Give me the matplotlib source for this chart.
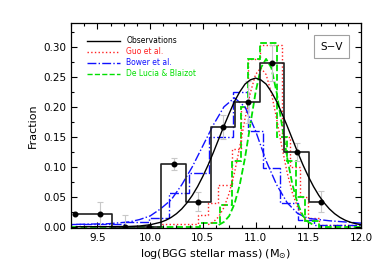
import numpy as np
import matplotlib
matplotlib.use("Agg")
import matplotlib.pyplot as plt
from matplotlib.lines import Line2D
from matplotlib.ticker import MultipleLocator

# Observations: histogram (bin centres, fraction, error)
obs_x = [9.29, 9.524, 9.757, 9.99, 10.224, 10.457, 10.69, 10.924, 11.157, 11.39, 11.624]
obs_y = [0.022, 0.022, 0.0, 0.0, 0.105, 0.042, 0.167, 0.208, 0.273, 0.125, 0.042]
obs_err = [0.0, 0.02, 0.02, 0.0, 0.01, 0.016, 0.02, 0.035, 0.03, 0.015, 0.017]

# Observations: fitted curve
fit_x = [9.3, 9.6, 9.8, 9.9, 10.0, 10.1, 10.15, 10.2, 10.25, 10.3, 10.35, 10.4, 10.45,
         10.5, 10.55, 10.6, 10.65, 10.7, 10.75, 10.8, 10.85, 10.9, 10.95, 11.0,
         11.05, 11.1, 11.15, 11.2, 11.25, 11.3, 11.35, 11.4, 11.45, 11.5, 11.55,
         11.6, 11.65, 11.7, 11.75, 11.8, 11.85, 11.9, 11.95, 12.0]
fit_y = [0.0, 0.0001, 0.0005, 0.0013, 0.0033, 0.0075, 0.0109, 0.0156, 0.0218, 0.0298,
         0.040, 0.0523, 0.067, 0.0841, 0.103, 0.124, 0.146, 0.168, 0.189, 0.209,
         0.225, 0.238, 0.245, 0.248, 0.245, 0.238, 0.225, 0.209, 0.189, 0.168,
         0.146, 0.124, 0.103, 0.0841, 0.067, 0.0523, 0.040, 0.0298, 0.0218, 0.0156,
         0.0109, 0.0075, 0.0052, 0.0033]

# Guo et al. (red dotted)
guo_edges = [10.1, 10.45, 10.55, 10.64, 10.78, 10.86, 10.93, 11.04, 11.25, 11.33, 11.42, 11.5, 11.6, 12.0]
guo_vals = [0.004, 0.02, 0.04, 0.07, 0.13, 0.2, 0.28, 0.303, 0.15, 0.1, 0.05, 0.015, 0.003]
guo_cx = [10.55, 10.6, 10.65, 10.7, 10.75, 10.8, 10.85, 10.9, 10.95, 11.0, 11.05,
          11.1, 11.15, 11.2, 11.25, 11.3, 11.35, 11.4, 11.45, 11.5, 11.55]
guo_cy = [0.0035, 0.008, 0.0166, 0.032, 0.056, 0.090, 0.133, 0.180, 0.223, 0.254, 0.265,
          0.254, 0.223, 0.180, 0.133, 0.090, 0.056, 0.032, 0.0166, 0.008, 0.0035]

# Bower et al. (blue dash-dot)
bow_edges = [9.25, 9.75, 9.99, 10.18, 10.37, 10.56, 10.79, 10.93, 11.07, 11.23, 11.4, 11.55, 12.0]
bow_vals = [0.004, 0.008, 0.015, 0.057, 0.09, 0.15, 0.225, 0.16, 0.098, 0.04, 0.012, 0.003]
bow_cx = [9.3, 9.6, 9.8, 9.9, 10.0, 10.1, 10.2, 10.3, 10.4, 10.5, 10.6, 10.7, 10.8,
          10.9, 11.0, 11.1, 11.2, 11.3, 11.4, 11.5, 11.7, 12.0]
bow_cy = [0.004, 0.005, 0.008, 0.012, 0.018, 0.03, 0.045, 0.07, 0.1, 0.135, 0.17, 0.2,
          0.215, 0.2, 0.16, 0.11, 0.07, 0.04, 0.022, 0.014, 0.01, 0.006]

# De Lucia & Blaizot (green dashed)
dlb_edges = [9.25, 10.47, 10.66, 10.78, 10.86, 10.93, 11.04, 11.2, 11.3, 11.38, 11.47, 11.6, 12.0]
dlb_vals = [0.0, 0.007, 0.037, 0.11, 0.2, 0.28, 0.307, 0.15, 0.11, 0.05, 0.01, 0.0]
dlb_cx = [10.65, 10.7, 10.75, 10.8, 10.85, 10.9, 10.95, 11.0, 11.05, 11.1, 11.15,
          11.2, 11.25, 11.3, 11.35, 11.4, 11.45, 11.5, 11.55]
dlb_cy = [0.003, 0.008, 0.018, 0.038, 0.070, 0.115, 0.170, 0.224, 0.265, 0.28, 0.265,
          0.224, 0.170, 0.115, 0.070, 0.038, 0.018, 0.008, 0.003]

red = "#ff2020"
blue = "#1010ff"
green = "#00e000"

fig = plt.figure(figsize=(3.82, 2.73), dpi=100)
ax = fig.add_axes([0.186, 0.165, 0.759, 0.751])

# models
ax.stairs(guo_vals, guo_edges, color=red, linestyle=":", linewidth=1.0)
ax.plot(guo_cx, guo_cy, color=red, linestyle=":", linewidth=1.0)
ax.stairs(bow_vals, bow_edges, color=blue, linestyle="-.", linewidth=1.0)
ax.plot(bow_cx, bow_cy, color=blue, linestyle="-.", linewidth=1.0)
ax.stairs(dlb_vals, dlb_edges, color=green, linestyle="--", linewidth=1.3)
ax.plot(dlb_cx, dlb_cy, color=green, linestyle="--", linewidth=1.3)

# observations
ax.errorbar(obs_x, obs_y, yerr=obs_err, fmt="none", ecolor="#c8c8c8",
            elinewidth=0.8, capsize=2, capthick=0.8, zorder=2)
ax.step(obs_x, obs_y, where="mid", color="#202020", linewidth=1.2, zorder=3)
ax.plot(obs_x, obs_y, "o", color="black", markersize=3.3, zorder=4)
ax.plot(fit_x, fit_y, color="black", linewidth=1.0, zorder=4)

ax.set_xlim(9.25, 12.0)
ax.set_ylim(-0.002, 0.34)
ax.xaxis.set_minor_locator(MultipleLocator(0.125))
ax.yaxis.set_minor_locator(MultipleLocator(0.025))
ax.set_yticks([0.0, 0.05, 0.10, 0.15, 0.20, 0.25, 0.30])
ax.set_yticklabels(["0.00", "0.05", "0.10", "0.15", "0.20", "0.25", "0.30"])
ax.set_xticks([9.5, 10.0, 10.5, 11.0, 11.5, 12.0])
ax.set_xticklabels(["9.5", "10.0", "10.5", "11.0", "11.5", "12.0"])
ax.tick_params(which="both", direction="in", top=True, right=True, labelsize=7.5, width=0.8)
ax.tick_params(which="major", length=4)
ax.tick_params(which="minor", length=2)
for s in ax.spines.values():
    s.set_linewidth(0.9)

ax.set_xlabel(r"log(BGG stellar mass) (M$_{\odot}$)", fontsize=8, labelpad=3)
ax.set_ylabel("Fraction", fontsize=8, labelpad=4)

handles = [
    Line2D([], [], color="black", linewidth=1.0),
    Line2D([], [], color=red, linestyle=":", linewidth=1.0),
    Line2D([], [], color=blue, linestyle="-.", linewidth=1.0),
    Line2D([], [], color=green, linestyle="--", linewidth=1.0),
]
labels = ["Observations", "Guo et al.", "Bower et al.", "De Lucia & Blaizot"]
ax.legend(handles, labels, loc="upper left", bbox_to_anchor=(0.035, 0.96),
          frameon=False, fontsize=5.5, handlelength=4.4, handletextpad=0.8,
          labelspacing=0.25, labelcolor=["black", red, blue, green], borderpad=0.2)

ax.text(0.898, 0.885, "S\u2212V", transform=ax.transAxes, fontsize=7.5,
        ha="center", va="center",
        bbox=dict(facecolor="white", edgecolor="#a0a0a0", linewidth=0.8, pad=4.5))

fig.savefig("out.png", dpi=100)
